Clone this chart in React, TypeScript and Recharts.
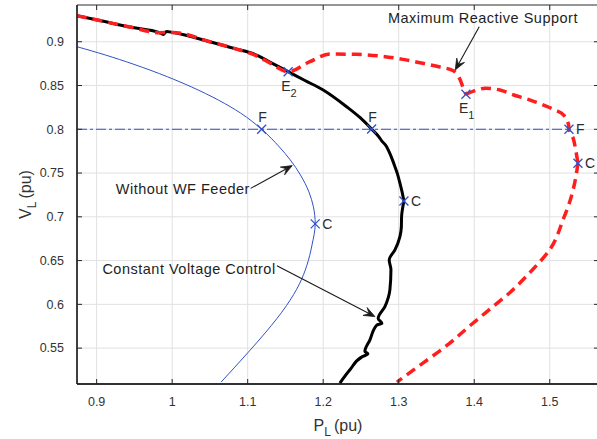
import React from 'react';
import {
  ComposedChart,
  Line,
  Scatter,
  XAxis,
  YAxis,
  CartesianGrid,
  ReferenceLine,
  ReferenceDot,
  ReferenceArea,
  Label,
} from 'recharts';

type Pt = { p: number; v: number };

// ---------- data ----------
const xTicks = [0.9, 1, 1.1, 1.2, 1.3, 1.4, 1.5];
const yTicks = [0.55, 0.6, 0.65, 0.7, 0.75, 0.8, 0.85, 0.9];
const xDomain: [number, number] = [0.874, 1.5652];
const yDomain: [number, number] = [0.509, 0.942];

const withoutWF: Pt[] = [
  { p: 0.8738, v: 0.8944 },
  { p: 0.9119, v: 0.8848 },
  { p: 0.9483, v: 0.8745 },
  { p: 0.9938, v: 0.86 },
  { p: 1.0258, v: 0.8483 },
  { p: 1.0612, v: 0.8334 },
  { p: 1.0905, v: 0.8186 },
  { p: 1.1185, v: 0.8 },
  { p: 1.142, v: 0.7798 },
  { p: 1.1564, v: 0.765 },
  { p: 1.1699, v: 0.7478 },
  { p: 1.1811, v: 0.7284 },
  { p: 1.187, v: 0.7116 },
  { p: 1.1894, v: 0.6919 },
  { p: 1.1852, v: 0.6679 },
  { p: 1.1783, v: 0.6443 },
  { p: 1.1686, v: 0.6234 },
  { p: 1.1514, v: 0.5986 },
  { p: 1.1241, v: 0.5683 },
  { p: 1.1009, v: 0.5454 },
  { p: 1.0648, v: 0.5112 },
];

// Constant voltage control: upper branch (to point C) and lower branch (from C)
const constVoltageUpper: Pt[] = [
  { p: 0.8738, v: 0.9297 },
  { p: 0.9042, v: 0.9242 },
  { p: 0.9441, v: 0.9168 },
  { p: 0.9837, v: 0.9103 },
  { p: 0.9881, v: 0.9084 },
  { p: 0.9926, v: 0.9116 },
  { p: 1.0009, v: 0.9107 },
  { p: 1.0499, v: 0.9 },
  { p: 1.083, v: 0.8922 },
  { p: 1.1118, v: 0.8848 },
  { p: 1.1294, v: 0.8768 },
  { p: 1.1536, v: 0.8658 },
  { p: 1.1758, v: 0.8557 },
  { p: 1.2, v: 0.8449 },
  { p: 1.231, v: 0.8258 },
  { p: 1.2486, v: 0.8135 },
  { p: 1.2641, v: 0.8003 },
  { p: 1.2745, v: 0.7905 },
  { p: 1.2775, v: 0.7868 },
  { p: 1.284, v: 0.7801 },
  { p: 1.2861, v: 0.7764 },
  { p: 1.2912, v: 0.7662 },
  { p: 1.295, v: 0.7573 },
  { p: 1.2985, v: 0.7485 },
  { p: 1.3016, v: 0.7384 },
  { p: 1.3045, v: 0.7282 },
  { p: 1.3069, v: 0.7181 },
];
const constVoltageLower: Pt[] = [
  { p: 1.3069, v: 0.7181 },
  { p: 1.3038, v: 0.7002 },
  { p: 1.3035, v: 0.6885 },
  { p: 1.3016, v: 0.6774 },
  { p: 1.295, v: 0.6622 },
  { p: 1.2874, v: 0.6508 },
  { p: 1.2897, v: 0.6394 },
  { p: 1.2883, v: 0.6166 },
  { p: 1.2817, v: 0.5975 },
  { p: 1.2728, v: 0.5839 },
  { p: 1.2777, v: 0.5782 },
  { p: 1.2711, v: 0.5763 },
  { p: 1.2619, v: 0.5595 },
  { p: 1.2552, v: 0.5461 },
  { p: 1.2592, v: 0.5435 },
  { p: 1.2513, v: 0.54 },
  { p: 1.2354, v: 0.5252 },
  { p: 1.2221, v: 0.51 },
];

// Maximum reactive support: start to E1, E1 to C, C to the end
const maxReactiveUpper: Pt[] = [
  { p: 0.8738, v: 0.9297 },
  { p: 0.9042, v: 0.9242 },
  { p: 0.9441, v: 0.9168 },
  { p: 0.9837, v: 0.9103 },
  { p: 1.0009, v: 0.9107 },
  { p: 1.0499, v: 0.9 },
  { p: 1.083, v: 0.8922 },
  { p: 1.1118, v: 0.8838 },
  { p: 1.1294, v: 0.8758 },
  { p: 1.1536, v: 0.8658 },
  { p: 1.1823, v: 0.8772 },
  { p: 1.2088, v: 0.886 },
  { p: 1.2442, v: 0.8856 },
  { p: 1.275, v: 0.8837 },
  { p: 1.3056, v: 0.8799 },
  { p: 1.3281, v: 0.876 },
  { p: 1.3546, v: 0.8711 },
  { p: 1.3722, v: 0.8669 },
  { p: 1.3815, v: 0.8563 },
  { p: 1.385, v: 0.8483 },
  { p: 1.389, v: 0.84 },
];
const maxReactiveRight: Pt[] = [
  { p: 1.389, v: 0.84 },
  { p: 1.4013, v: 0.8441 },
  { p: 1.4146, v: 0.8468 },
  { p: 1.434, v: 0.8449 },
  { p: 1.4522, v: 0.8392 },
  { p: 1.4742, v: 0.8334 },
  { p: 1.4919, v: 0.8277 },
  { p: 1.5069, v: 0.822 },
  { p: 1.5184, v: 0.8163 },
  { p: 1.525, v: 0.8049 },
  { p: 1.5254, v: 0.8 },
  { p: 1.5317, v: 0.7878 },
  { p: 1.5373, v: 0.7612 },
];
const maxReactiveLower: Pt[] = [
  { p: 1.5373, v: 0.7612 },
  { p: 1.5338, v: 0.7421 },
  { p: 1.5272, v: 0.7193 },
  { p: 1.5184, v: 0.6984 },
  { p: 1.5007, v: 0.6634 },
  { p: 1.4742, v: 0.6368 },
  { p: 1.4477, v: 0.6139 },
  { p: 1.4212, v: 0.5949 },
  { p: 1.3947, v: 0.5758 },
  { p: 1.3638, v: 0.553 },
  { p: 1.333, v: 0.5335 },
  { p: 1.2976, v: 0.5112 },
];

const feasibleVoltage = 0.8;
const feasibleLine: Pt[] = [
  { p: xDomain[0], v: feasibleVoltage },
  { p: 1.5254, v: feasibleVoltage },
];

type Marker = { id: string; p: number; v: number; name: string; sub: string };
const markers: Marker[] = [
  { id: 'blueF', p: 1.1185, v: 0.8, name: 'F', sub: '' },
  { id: 'blueC', p: 1.1894, v: 0.6919, name: 'C', sub: '' },
  { id: 'blackF', p: 1.2641, v: 0.8003, name: 'F', sub: '' },
  { id: 'blackC', p: 1.3069, v: 0.7181, name: 'C', sub: '' },
  { id: 'E2', p: 1.1536, v: 0.8658, name: 'E', sub: '2' },
  { id: 'E1', p: 1.389, v: 0.84, name: 'E', sub: '1' },
  { id: 'redF', p: 1.5254, v: 0.8, name: 'F', sub: '' },
  { id: 'redC', p: 1.5373, v: 0.7612, name: 'C', sub: '' },
];

type Annot = {
  text: string;
  at: Pt;
  anchor: 'start' | 'middle' | 'end';
  from: Pt;
  to: Pt;
};
const annotations: Annot[] = [
  {
    text: 'Maximum Reactive Support',
    at: { p: 1.4115, v: 0.9267 },
    anchor: 'middle',
    from: { p: 1.4066, v: 0.9171 },
    to: { p: 1.3748, v: 0.8677 },
  },
  {
    text: 'Without WF Feeder',
    at: { p: 1.103, v: 0.7315 },
    anchor: 'end',
    from: { p: 1.104, v: 0.7325 },
    to: { p: 1.159, v: 0.7585 },
  },
  {
    text: 'Constant Voltage Control',
    at: { p: 1.137, v: 0.6405 },
    anchor: 'end',
    from: { p: 1.1387, v: 0.644 },
    to: { p: 1.2685, v: 0.586 },
  },
];

// ---------- layout / style ----------
const FONT = '"Liberation Sans", Arial, Helvetica, sans-serif';
const CW = 600;
const CH = 439;
const MARGIN = { top: 5, right: 1, bottom: 25, left: 17 };
const YW = 60;
const XH = 30;
const PLOT_L = MARGIN.left + YW;
const PLOT_R = CW - MARGIN.right;
const PLOT_T = MARGIN.top;
const PLOT_B = CH - MARGIN.bottom - XH;
const TICK_COLOR = '#262626';
const TEXT_COLOR = '#333333';
const BLUE = '#3152c4';
const RED = '#ff1e1e';

const LABEL_PLACE: Record<string, 'above' | 'right' | 'below'> = {
  blueF: 'above',
  blackF: 'above',
  blueC: 'right',
  blackC: 'right',
  redF: 'right',
  redC: 'right',
  E1: 'below',
  E2: 'below',
};

const XTick = (props: any) => {
  const { x, payload } = props;
  return (
    <g>
      <line x1={x} x2={x} y1={PLOT_B} y2={PLOT_B - 5} stroke={TICK_COLOR} />
      <line x1={x} x2={x} y1={PLOT_T} y2={PLOT_T + 5} stroke={TICK_COLOR} />
      <text
        x={x}
        y={PLOT_B + 18}
        dy="0.35em"
        textAnchor="middle"
        fontSize={12.5}
        fontFamily={FONT}
        fill={TEXT_COLOR}
      >
        {String(payload.value)}
      </text>
    </g>
  );
};

const YTick = (props: any) => {
  const { y, payload } = props;
  return (
    <g>
      <line x1={PLOT_L} x2={PLOT_L + 5} y1={y} y2={y} stroke={TICK_COLOR} />
      <line x1={PLOT_R} x2={PLOT_R - 5} y1={y} y2={y} stroke={TICK_COLOR} />
      <text
        x={PLOT_L - 13}
        y={y}
        dy="0.35em"
        textAnchor="end"
        fontSize={12.5}
        fontFamily={FONT}
        fill={TEXT_COLOR}
      >
        {String(payload.value)}
      </text>
    </g>
  );
};

const MarkerShape = (props: any) => {
  const { cx, cy, payload } = props;
  if (cx == null || cy == null) return <g />;
  const s = 4.5;
  const place = LABEL_PLACE[payload.id];
  let tx = cx;
  let ty = cy;
  let anchor: 'start' | 'middle' = 'start';
  if (place === 'above') {
    tx = cx + 1;
    ty = cy - 12;
    anchor = 'middle';
  } else if (place === 'right') {
    tx = cx + 7;
    ty = cy;
  } else {
    tx = cx - 7;
    ty = cy + 14;
  }
  return (
    <g>
      <line x1={cx - s} y1={cy - s} x2={cx + s} y2={cy + s} stroke={BLUE} strokeWidth={1.3} />
      <line x1={cx - s} y1={cy + s} x2={cx + s} y2={cy - s} stroke={BLUE} strokeWidth={1.3} />
      <text
        x={tx}
        y={ty}
        dy="0.35em"
        textAnchor={anchor}
        fontSize={14}
        fontFamily={FONT}
        fill="#2b2b2b"
      >
        {payload.name}
        {payload.sub ? (
          <tspan dy={6} fontSize={11}>
            {payload.sub}
          </tspan>
        ) : null}
      </text>
    </g>
  );
};

const arrowShape = (props: any) => {
  const { x1, y1, x2, y2 } = props;
  if ([x1, y1, x2, y2].some((n) => n == null || Number.isNaN(n))) return <g />;
  const ang = Math.atan2(y2 - y1, x2 - x1);
  const L = 12;
  const a = 0.38;
  const p1x = x2 - L * Math.cos(ang - a);
  const p1y = y2 - L * Math.sin(ang - a);
  const p2x = x2 - L * Math.cos(ang + a);
  const p2y = y2 - L * Math.sin(ang + a);
  const bx = x2 - 0.55 * L * Math.cos(ang);
  const by = y2 - 0.55 * L * Math.sin(ang);
  return (
    <g>
      <line x1={x1} y1={y1} x2={bx} y2={by} stroke="#1a1a1a" strokeWidth={1.1} />
      <path
        d={`M${x2},${y2} L${p1x},${p1y} L${bx},${by} L${p2x},${p2y} Z`}
        fill="#1a1a1a"
        stroke="#1a1a1a"
        strokeWidth={0.8}
        strokeLinejoin="miter"
      />
    </g>
  );
};

const makeTextShape = (text: string, anchor: 'start' | 'middle' | 'end') => (props: any) => {
  const { cx, cy } = props;
  if (cx == null || cy == null) return <g />;
  return (
    <text
      x={cx}
      y={cy}
      dy="0.35em"
      textAnchor={anchor}
      fontSize={14.5}
      letterSpacing={0.5}
      fontFamily={FONT}
      fill="#1e1e1e"
    >
      {text}
    </text>
  );
};

export default function App() {
  return (
    <div
      style={{
        position: 'absolute',
        left: 0,
        top: 0,
        width: 597,
        height: 439,
        overflow: 'hidden',
        background: '#fff',
      }}
    >
      <ComposedChart width={CW} height={CH} margin={MARGIN}>
        <CartesianGrid stroke="#e1e1e1" strokeWidth={1} />
        <XAxis
          type="number"
          dataKey="p"
          domain={xDomain}
          allowDataOverflow
          ticks={xTicks}
          interval={0}
          height={XH}
          tickSize={0}
          tickLine={false}
          tick={<XTick />}
          axisLine={{ stroke: '#111', strokeWidth: 1.3 }}
        >
          <Label
            content={() => (
              <text
                x={(PLOT_L + PLOT_R) / 2}
                y={PLOT_B + 41}
                dy="0.35em"
                textAnchor="middle"
                fontSize={16}
                fontFamily={FONT}
                fill={TEXT_COLOR}
              >
                P
                <tspan dy={5} fontSize={12}>
                  L
                </tspan>
                <tspan dy={-5} dx={3}>
                  (pu)
                </tspan>
              </text>
            )}
          />
        </XAxis>
        <YAxis
          type="number"
          dataKey="v"
          domain={yDomain}
          allowDataOverflow
          ticks={yTicks}
          interval={0}
          width={YW}
          tickSize={0}
          tickLine={false}
          tick={<YTick />}
          axisLine={{ stroke: '#111', strokeWidth: 1.3 }}
        >
          <Label
            content={() => (
              <text
                x={PLOT_L - 52}
                y={(PLOT_T + PLOT_B) / 2}
                dy="0.35em"
                textAnchor="middle"
                fontSize={16}
                fontFamily={FONT}
                fill={TEXT_COLOR}
                transform={`rotate(-90 ${PLOT_L - 52} ${(PLOT_T + PLOT_B) / 2})`}
              >
                V
                <tspan dy={5} fontSize={12}>
                  L
                </tspan>
                <tspan dy={-5} dx={3}>
                  (pu)
                </tspan>
              </text>
            )}
          />
        </YAxis>
        <ReferenceArea
          x1={xDomain[0]}
          x2={xDomain[1]}
          y1={yDomain[0]}
          y2={yDomain[1]}
          fill="none"
          fillOpacity={0}
          stroke="#3a3a3a"
          strokeWidth={1}
          ifOverflow="visible"
        />
        <Line
          data={withoutWF}
          dataKey="v"
          type="monotoneY"
          stroke={BLUE}
          strokeWidth={1}
          dot={false}
          isAnimationActive={false}
        />
        <Line
          data={feasibleLine}
          dataKey="v"
          type="linear"
          stroke={BLUE}
          strokeWidth={1.1}
          strokeDasharray="10 3 3 3"
          dot={false}
          isAnimationActive={false}
        />
        <Line
          data={constVoltageUpper}
          dataKey="v"
          type="monotoneX"
          stroke="#000"
          strokeWidth={3}
          strokeLinejoin="round"
          dot={false}
          isAnimationActive={false}
        />
        <Line
          data={constVoltageLower}
          dataKey="v"
          type="monotoneY"
          stroke="#000"
          strokeWidth={3}
          strokeLinejoin="round"
          dot={false}
          isAnimationActive={false}
        />
        <Line
          data={maxReactiveUpper}
          dataKey="v"
          type="monotoneX"
          stroke={RED}
          strokeWidth={3.5}
          strokeDasharray="10 6"
          dot={false}
          isAnimationActive={false}
        />
        <Line
          data={maxReactiveRight}
          dataKey="v"
          type="monotoneX"
          stroke={RED}
          strokeWidth={3.5}
          strokeDasharray="10 6"
          dot={false}
          isAnimationActive={false}
        />
        <Line
          data={maxReactiveLower}
          dataKey="v"
          type="monotoneY"
          stroke={RED}
          strokeWidth={3.5}
          strokeDasharray="10 6"
          dot={false}
          isAnimationActive={false}
        />
        {annotations.map((a) => (
          <ReferenceLine
            key={'arr-' + a.text}
            segment={[
              { x: a.from.p, y: a.from.v },
              { x: a.to.p, y: a.to.v },
            ]}
            shape={arrowShape}
            ifOverflow="visible"
          />
        ))}
        {annotations.map((a) => (
          <ReferenceDot
            key={'txt-' + a.text}
            x={a.at.p}
            y={a.at.v}
            r={0}
            shape={makeTextShape(a.text, a.anchor)}
            ifOverflow="visible"
          />
        ))}
        <Scatter data={markers} dataKey="v" shape={MarkerShape} isAnimationActive={false} />
      </ComposedChart>
    </div>
  );
}
